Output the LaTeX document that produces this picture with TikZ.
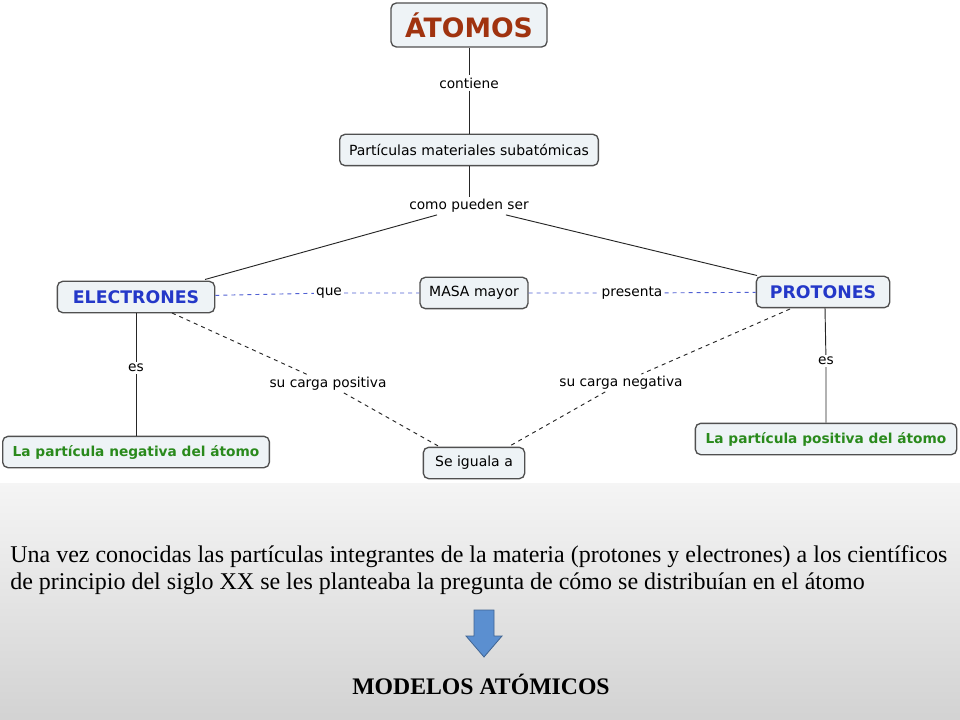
\documentclass[tikz,border=0pt]{standalone}
\usepackage{fontspec}
\setmainfont{Liberation Serif}
\newfontfamily\mapfont{DejaVu Sans}
\definecolor{boxfill}{HTML}{EEF3F6}
\definecolor{boxline}{HTML}{505050}
\definecolor{titlered}{HTML}{A0330F}
\definecolor{elblue}{HTML}{2438C8}
\definecolor{elgreen}{HTML}{2A8A1C}
\definecolor{arrowblue}{HTML}{5B8FD0}
\tikzset{
  concept/.style={draw=boxline,line width=1pt,fill=boxfill,rounded corners=4pt,
    font=\mapfont\fontsize{10.5}{12}\selectfont,inner sep=0pt,minimum height=23.5pt},
  linklabel/.style={fill=white,inner sep=1.5pt,font=\mapfont\fontsize{10.3}{12}\selectfont},
  plainlink/.style={line width=0.7pt,black!85},
  dashlink/.style={line width=0.7pt,dashed,black!85},
  bluelink/.style={line width=0.7pt,dashed,elblue!80}
}
\begin{document}
\begin{tikzpicture}[x=0.75pt,y=-0.75pt]
\useasboundingbox (0,0) rectangle (960,720);
% grey panel under the map
\shade[top color=gray!8,bottom color=gray!35] (0,483) rectangle (960,720);
% concepts
\node[concept,minimum width=117pt,minimum height=33pt,text=titlered,
  font=\mapfont\bfseries\fontsize{20}{22}\selectfont] (atomos) at (469,25) {ÁTOMOS};
\node[concept,minimum width=194pt] (particulas) at (469,150) {Partículas materiales subatómicas};
\node[concept,minimum width=118pt,text=elblue,font=\mapfont\bfseries\fontsize{13}{15}\selectfont] (electrones) at (136,297) {ELECTRONES};
\node[concept,minimum width=81pt] (masa) at (474,293) {MASA mayor};
\node[concept,minimum width=100pt,text=elblue,font=\mapfont\bfseries\fontsize{13}{15}\selectfont] (protones) at (823,292) {PROTONES};
\node[concept,minimum width=200pt,text=elgreen,font=\mapfont\bfseries\fontsize{10.3}{12}\selectfont] (negativa) at (136,452) {La partícula negativa del átomo};
\node[concept,minimum width=196pt,text=elgreen,font=\mapfont\bfseries\fontsize{10.3}{12}\selectfont] (positiva) at (826,439) {La partícula positiva del átomo};
\node[concept,minimum width=76pt] (iguala) at (474,463) {Se iguala a};
% link phrases
\node[linklabel] (contiene) at (469,83) {contiene};
\node[linklabel] (como) at (469,206) {como pueden ser};
\node[linklabel] (que) at (329,293) {que};
\node[linklabel] (presenta) at (632,293) {presenta};
\node[linklabel] (esE) at (136,368) {es};
\node[linklabel] (esP) at (826,361) {es};
\node[linklabel] (cpos) at (328,384) {su carga positiva};
\node[linklabel] (cneg) at (621,383) {su carga negativa};
% connectors
\draw[plainlink] (atomos) -- (contiene) -- (particulas);
\draw[plainlink] (particulas) -- (como);
\draw[plainlink] (como) -- (205,279.5);
\draw[plainlink] (como) -- (757,275.5);
\draw[bluelink] (electrones) -- (que) -- (masa);
\draw[bluelink] (masa) -- (presenta) -- (protones);
\draw[plainlink] (electrones) -- (esE) -- (negativa);
\draw[plainlink] (825,308) -- (esP) -- (positiva);
\draw[dashlink] (172,313) -- (cpos) -- (440,447);
\draw[dashlink] (790,309) -- (cneg) -- (508,447);
% text below
\node[anchor=west,font=\fontsize{18}{20}\selectfont,inner sep=0pt] (linea1) at (10,557)
  {Una vez conocidas las partículas integrantes de la materia (protones y electrones) a los científicos};
\node[anchor=west,font=\fontsize{18}{20}\selectfont,inner sep=0pt] (linea2) at (10,584)
  {de principio del siglo XX se les planteaba la pregunta de cómo se distribuían en el átomo};
\draw[draw=arrowblue!70!black,fill=arrowblue,line width=0.6pt]
  (474,610) -- (494,610) -- (494,636) -- (502,636) -- (484,657) -- (466,636) -- (474,636) -- cycle;
\node[font=\bfseries\fontsize{17.8}{20}\selectfont] (modelos) at (481,684) {MODELOS ATÓMICOS};
\end{tikzpicture}
\end{document}
